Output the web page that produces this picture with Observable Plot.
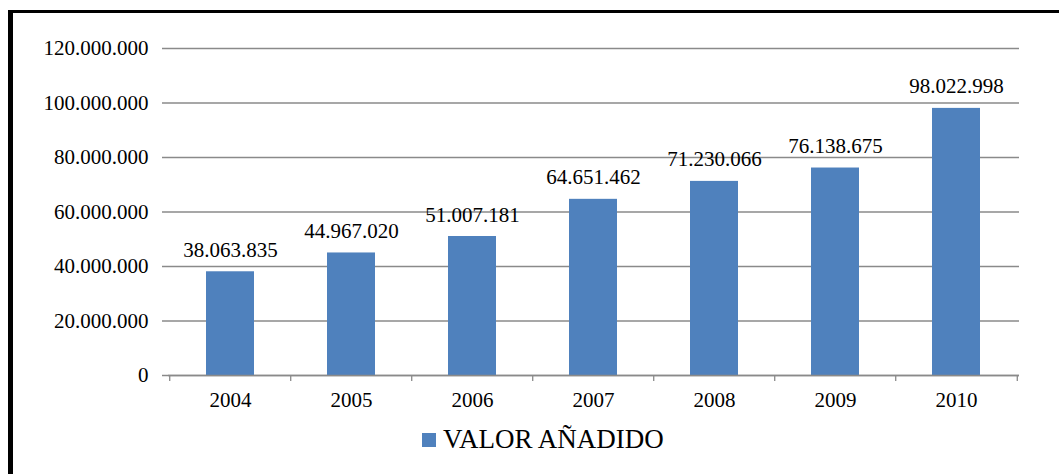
<!DOCTYPE html>
<html>
<head>
<meta charset="utf-8">
<script src="https://cdn.jsdelivr.net/npm/d3@7"></script>
<script src="https://cdn.jsdelivr.net/npm/@observablehq/plot@0.6"></script>
<style>
  html, body { margin: 0; padding: 0; background: #fff; overflow: hidden; width: 1059px; height: 474px; }
  #frame { position: absolute; left: 8px; top: 10px; width: 1200px; height: 600px; border-top: 3px solid #000; border-left: 5px solid #000; box-sizing: border-box; }
  #chart { position: absolute; left: 0; top: 0; }
  #chart svg, #chart svg text { font-family: 'Liberation Serif' !important; }
  #legend { position: absolute; left: 422px; top: 424px; display: flex; align-items: center; font-family: 'Liberation Serif'; font-size: 27px; color: #000; }
  #legend .sw { width: 14px; height: 14px; background: #4F81BD; margin-right: 7px; margin-top: 1px; }
</style>
</head>
<body>
<div id="frame"></div>
<div id="chart"></div>
<div id="legend"><span class="sw"></span><span id="legend-label"></span></div>
<script>
const years = ["2004", "2005", "2006", "2007", "2008", "2009", "2010"];
const values = [38063835, 44967020, 51007181, 64651462, 71230066, 76138675, 98022998];
const yTicks = [0, 20000000, 40000000, 60000000, 80000000, 100000000, 120000000];
const seriesName = "VALOR AÑADIDO";

const data = years.map((y, i) => ({year: y, value: values[i]}));
const fmt = d3.formatLocale({decimal: ",", thousands: ".", grouping: [3], currency: ["", "€"]}).format(",");

const W = 1059, H = 415;
const mL = 168, mR = 40, mT = 48, mB = H - 375;
const step = (W - mL - mR) / years.length;
const gray = "#8a8a8a";
const blue = "#4F81BD";

const chart = Plot.plot({
  width: W,
  height: H,
  marginLeft: mL,
  marginRight: mR,
  marginTop: mT,
  marginBottom: mB,
  style: {fontFamily: "Liberation Serif", fontSize: "21px", color: "#000", background: "transparent"},
  x: {domain: years, paddingInner: 0.6, paddingOuter: 0.3, label: null},
  y: {domain: [0, 120000000], label: null},
  marks: [
    Plot.ruleY(yTicks, {y: d => d, stroke: gray, strokeWidth: 1.3, insetLeft: -6}),
    Plot.barY(data, {x: "year", y: "value", fill: blue}),
    Plot.ruleX([0], {x: () => 0, frameAnchor: "left", stroke: gray, strokeWidth: 1.5}),
    Plot.ruleX(years, {x: d => d, dx: -step / 2, y1: 0, y2: 0, insetBottom: -6, stroke: gray, strokeWidth: 1.3}),
    Plot.ruleX([years[years.length - 1]], {x: d => d, dx: step / 2, y1: 0, y2: 0, insetBottom: -6, stroke: gray, strokeWidth: 1.3}),
    Plot.ruleY([0], {y: d => d, stroke: gray, strokeWidth: 1.5}),
    Plot.axisY(yTicks, {tickSize: 0, tickPadding: 20, tickFormat: d => fmt(d), fontSize: 21, fill: "#000"}),
    Plot.axisX({tickSize: 0, tickPadding: 17, fontSize: 21, fill: "#000"}),
    Plot.text(data, {x: "year", y: "value", text: d => fmt(d.value), lineAnchor: "bottom", dy: -15, fontSize: 21, fill: "#000"})
  ]
});
document.getElementById("chart").append(chart);
document.getElementById("legend-label").textContent = seriesName;
</script>
</body>
</html>
